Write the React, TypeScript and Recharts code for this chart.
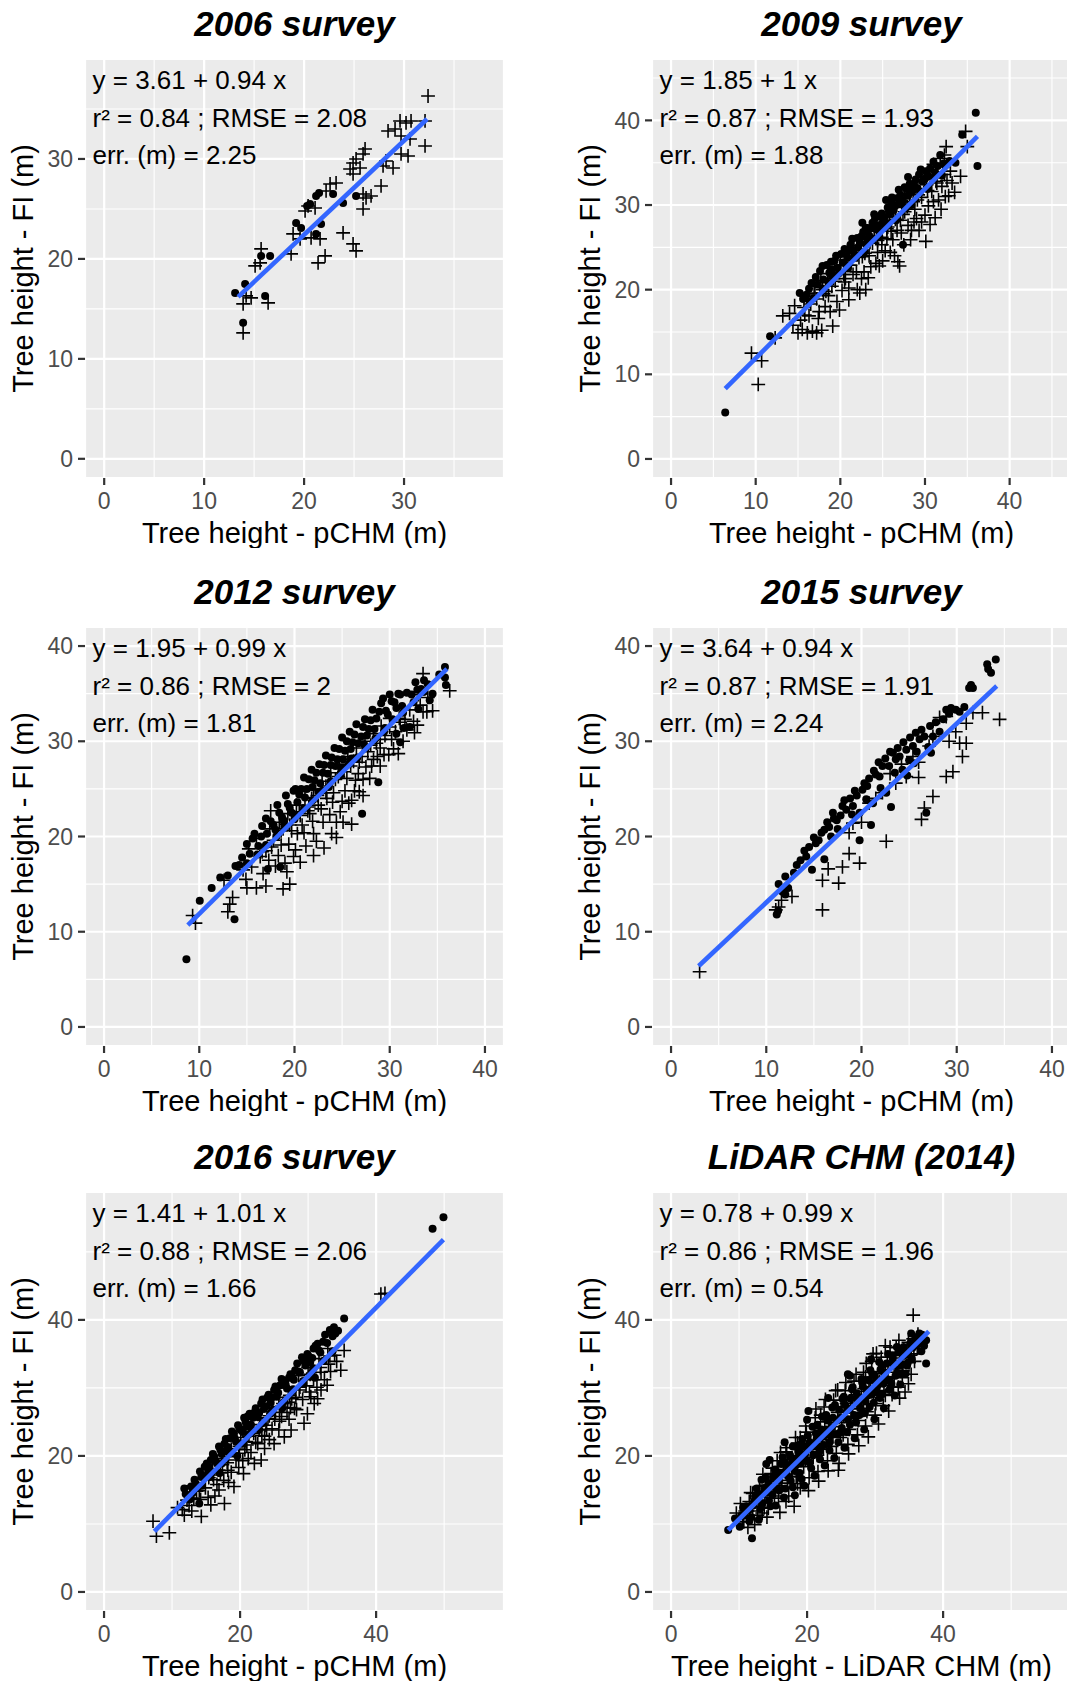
import { CartesianGrid, ReferenceLine, Scatter, ScatterChart, XAxis, YAxis } from "recharts";

type Pt = [number, number];

// ---- 2006 survey ----
const circles2006: Pt[] = [
  [21.2, 26.3], [20.6, 25.5], [21.5, 26.6], [22.9, 26.5], [23.9, 25.6], [25.2, 26.3],
  [19.2, 23.6], [19.7, 23.1], [21.7, 23.5], [21.2, 22.5], [15.7, 20.3], [16.6, 20.3],
  [14.1, 17.5], [13.1, 16.6], [16.1, 16.3], [13.9, 13.6], [20.3, 25.3],
];
const crosses2006: Pt[] = [
  [32.4, 36.3], [29.6, 33.8], [30.2, 33.6], [30.7, 33.8], [32.1, 33.8], [28.4, 32.8],
  [29.1, 33.0], [29.7, 32.3], [30.6, 32.0], [32.1, 31.3], [29.7, 30.5], [30.4, 30.3],
  [28.2, 29.8], [28.9, 29.1], [27.9, 29.3], [26.1, 31.0], [25.9, 30.5], [25.2, 30.0],
  [24.9, 29.6], [25.6, 29.1], [24.6, 29.0], [24.9, 28.5], [27.7, 27.3], [26.7, 26.3],
  [26.2, 26.1], [25.9, 26.5], [25.9, 25.0], [22.6, 27.5], [23.2, 27.6], [22.2, 26.8],
  [20.4, 25.3], [20.1, 24.8], [21.1, 25.1], [18.9, 22.5], [19.6, 22.0], [18.7, 20.5],
  [20.7, 22.1], [21.6, 22.0], [22.1, 20.3], [21.4, 19.6], [23.9, 22.6], [24.9, 21.5],
  [25.2, 20.8], [15.7, 21.0], [15.1, 19.3], [15.6, 19.6], [14.2, 16.3], [14.7, 16.1],
  [13.9, 15.5], [16.4, 15.6], [13.9, 12.6],
];
const fit2006: Pt[] = [[13.4, 16.2], [32.3, 34.0]];

// ---- 2009 survey ----
const circles2009: Pt[] = [
  [15.2, 19.6], [16.0, 19.4], [16.6, 20.8], [17.1, 21.5], [17.6, 22.2], [18.0, 21.2],
  [18.4, 22.9], [18.9, 23.3], [19.3, 23.4], [19.7, 22.6], [20.1, 24.2], [20.5, 24.8],
  [20.8, 23.9], [21.2, 25.3], [21.6, 24.6], [22.0, 26.1], [22.3, 25.5], [22.7, 26.8],
  [23.0, 27.3], [23.4, 26.4], [23.8, 27.9], [24.1, 28.4], [24.5, 27.6], [24.9, 29.0],
  [25.2, 28.5], [25.6, 29.7], [26.0, 30.3], [26.3, 29.4], [26.7, 30.8], [27.1, 31.2],
  [27.4, 30.5], [27.8, 31.9], [28.2, 32.5], [28.5, 31.6], [28.9, 33.0], [29.3, 33.6],
  [29.7, 32.8], [30.1, 34.0], [30.4, 33.4], [31.0, 35.1], [31.5, 34.6], [16.4, 18.6],
  [19.0, 21.6], [21.9, 24.0], [24.6, 26.9], [27.4, 25.3], [11.7, 14.5], [6.4, 5.5],
  [34.4, 38.3], [36.0, 40.9], [36.2, 34.6], [22.6, 27.9], [25.4, 30.6], [28.0, 33.3],
  [15.6, 18.9], [16.3, 20.1], [17.3, 20.6], [17.9, 22.8], [18.7, 22.0], [19.5, 24.0],
  [20.3, 23.2], [21.0, 24.6], [21.4, 26.0], [22.1, 25.0], [22.5, 26.3], [23.2, 26.0],
  [23.6, 27.3], [24.3, 27.1], [24.8, 28.6], [25.0, 27.9], [25.8, 29.0], [26.1, 30.9],
  [26.5, 29.9], [27.0, 30.1], [27.6, 32.1], [28.0, 31.1], [28.7, 32.3], [29.1, 32.0],
  [29.5, 34.2], [30.0, 33.1], [30.6, 34.3], [31.2, 33.8], [31.8, 35.9], [32.2, 34.9],
  [20.7, 22.9], [23.0, 25.4], [25.3, 27.6], [27.8, 29.7], [30.3, 31.9], [19.0, 22.4],
  [26.9, 31.8], [24.0, 28.9],
  [16.8, 19.0], [17.9, 20.1], [18.6, 20.8], [19.8, 21.9], [20.9, 22.5], [21.8, 23.9],
  [22.9, 24.5], [23.9, 26.0], [24.6, 26.3], [25.7, 27.8], [26.6, 28.2], [27.6, 29.7],
  [28.4, 30.0], [29.4, 31.6], [30.2, 32.0], [31.1, 33.2], [32.0, 33.5], [32.9, 35.2],
  [33.6, 35.0],
];
const crosses2009: Pt[] = [
  [13.2, 16.9], [14.0, 17.2], [14.6, 18.1], [15.0, 14.9], [15.5, 15.3], [16.1, 14.9],
  [16.7, 15.1], [17.2, 14.9], [17.8, 15.2], [19.1, 15.7], [15.8, 17.0], [16.5, 18.3],
  [17.0, 19.6], [17.5, 17.4], [18.2, 18.0], [18.6, 19.3], [19.0, 20.4], [19.6, 18.6],
  [20.2, 19.9], [20.6, 21.3], [21.0, 20.2], [21.5, 21.8], [22.0, 20.0], [22.3, 19.6],
  [23.0, 20.0], [21.2, 22.9], [22.8, 22.1], [23.4, 24.0], [23.8, 25.5], [24.2, 23.1],
  [24.6, 22.8], [24.9, 26.2], [25.3, 24.6], [25.6, 27.4], [25.9, 24.4], [26.2, 25.9],
  [26.5, 28.3], [26.8, 23.3], [27.0, 22.8], [27.2, 26.7], [27.6, 29.2], [28.0, 27.6],
  [28.3, 25.9], [28.6, 30.4], [29.0, 28.4], [29.3, 27.0], [29.6, 30.9], [30.1, 25.7],
  [30.0, 28.8], [30.4, 29.9], [30.8, 31.6], [31.2, 28.5], [31.6, 30.6], [32.0, 32.2],
  [32.4, 31.0], [32.6, 32.9], [32.3, 35.9], [32.5, 36.9], [31.8, 35.5], [31.0, 34.8],
  [30.5, 33.9], [29.9, 33.3], [29.0, 32.6], [28.3, 31.8], [27.6, 31.3], [26.9, 30.6],
  [26.2, 29.8], [25.4, 29.2], [24.8, 28.4], [24.0, 27.6], [23.2, 26.9], [22.4, 25.9],
  [21.6, 25.2], [20.8, 24.3], [20.0, 23.5], [19.3, 22.7], [18.5, 21.9], [17.7, 21.1],
  [16.9, 20.4], [16.1, 19.5], [33.0, 34.0], [33.5, 31.5], [34.2, 33.4], [34.8, 38.7],
  [35.0, 36.9], [9.5, 12.5], [10.7, 11.6], [10.3, 8.8], [12.3, 14.3], [27.3, 30.0],
  [14.4, 15.8], [15.3, 16.4], [16.3, 16.9], [17.4, 16.6], [18.0, 19.5], [18.8, 17.4],
  [19.4, 21.0], [19.9, 17.6], [20.4, 22.2], [21.0, 18.8], [21.4, 23.7], [21.9, 22.1],
  [22.5, 21.3], [22.9, 24.3], [23.6, 22.7], [24.0, 26.2], [24.4, 24.4], [25.0, 23.4],
  [25.5, 26.0], [25.8, 28.6], [26.4, 24.0], [26.7, 27.0], [27.1, 28.2], [27.5, 25.3],
  [27.9, 29.8], [28.4, 27.0], [28.8, 29.5], [29.2, 31.2], [29.6, 28.0], [30.3, 31.7],
  [30.6, 27.7], [31.0, 30.4], [31.4, 32.6], [31.9, 29.5], [32.3, 33.6], [32.8, 31.1],
  [33.2, 32.6], [22.2, 23.8], [23.3, 21.4], [26.0, 26.9], [28.7, 28.0], [20.5, 20.9],
  [17.9, 20.0], [15.7, 17.9], [31.5, 33.9], [24.9, 25.3],
  [17.2, 18.9], [18.3, 19.8], [19.2, 21.3], [20.4, 21.8], [21.3, 23.4], [22.6, 23.9],
  [23.5, 25.6], [24.4, 25.8], [25.5, 27.2], [26.3, 28.6], [27.4, 28.9], [28.2, 30.4],
  [29.1, 30.6], [30.2, 32.4], [31.3, 32.8], [32.1, 34.5],
];
const fit2009: Pt[] = [[6.4, 8.3], [36.2, 38.1]];

// ---- 2012 survey ----
const circles2012: Pt[] = [
  [8.65, 7.1], [10.05, 13.25], [11.3, 14.6], [12.2, 15.7], [13.0, 15.9], [13.7, 11.3],
  [13.8, 16.9], [14.5, 17.8], [15.0, 19.2], [15.3, 18.2], [15.8, 20.3], [16.2, 19.0],
  [16.6, 21.1], [17.1, 20.3], [17.2, 16.6], [17.5, 21.6], [18.0, 20.7], [18.5, 16.8],
  [18.4, 22.5], [18.9, 21.6], [19.3, 23.4], [19.7, 22.5], [19.9, 24.8], [20.3, 23.6],
  [20.7, 25.0], [21.1, 24.1], [21.5, 26.0], [21.9, 25.2], [22.3, 26.7], [22.7, 25.6],
  [23.1, 27.5], [23.5, 26.6], [23.9, 28.3], [24.3, 27.4], [24.7, 29.2], [25.1, 28.1],
  [25.5, 30.0], [25.9, 29.2], [26.3, 30.7], [26.7, 29.8], [27.1, 22.4], [27.2, 31.5],
  [27.6, 30.6], [28.0, 32.2], [28.4, 31.3], [28.8, 25.7], [28.9, 33.1], [29.3, 34.5],
  [29.8, 32.8], [30.2, 34.2], [30.7, 33.5], [31.1, 34.9], [31.5, 31.4], [32.1, 31.5],
  [32.7, 36.2], [33.3, 35.5], [34.2, 34.3], [35.8, 37.8], [35.8, 36.7], [35.9, 35.9],
  [30.7, 30.8], [31.1, 29.9],
  [14.2, 17.0], [15.6, 19.8], [16.5, 20.0], [17.0, 21.9], [17.8, 21.2], [18.2, 23.3],
  [18.7, 22.0], [19.1, 24.3], [19.5, 23.0], [20.1, 25.0], [20.5, 24.4], [21.0, 26.2],
  [21.3, 25.0], [21.8, 27.0], [22.1, 25.9], [22.6, 27.6], [23.0, 26.7], [23.3, 28.5],
  [23.8, 27.5], [24.2, 29.3], [24.5, 28.1], [25.0, 30.4], [25.3, 29.0], [25.8, 31.0],
  [26.1, 29.9], [26.5, 31.8], [27.0, 30.5], [27.4, 32.3], [27.8, 31.3], [28.2, 33.3],
  [28.6, 32.4], [29.1, 34.0], [29.6, 33.2], [30.0, 34.9], [30.5, 34.1], [30.9, 35.0],
  [31.3, 33.7], [31.8, 35.1], [32.3, 34.9], [32.9, 35.4], [33.6, 36.4], [34.5, 35.0],
  [22.5, 24.7], [24.9, 27.2], [27.3, 29.7], [29.5, 31.4], [20.0, 22.3], [26.0, 28.2],
  [23.6, 25.2], [33.0, 33.4], [34.0, 36.0], [35.2, 37.0],
  [15.0, 17.2], [16.1, 18.1], [17.0, 19.1], [18.1, 20.0], [19.0, 21.1], [20.0, 21.8],
  [21.0, 23.0], [21.9, 23.8], [22.9, 24.8], [23.8, 25.8], [24.8, 26.5], [25.7, 27.6],
  [26.6, 28.3], [27.5, 29.3], [28.5, 30.3], [29.4, 31.0], [30.3, 32.3], [31.4, 33.0],
  [32.5, 34.1], [33.6, 35.2],
];
const crosses2012: Pt[] = [
  [9.3, 11.7], [9.6, 10.9], [13.2, 12.9], [13.0, 12.1], [13.5, 13.6], [12.6, 15.4],
  [14.6, 16.5], [15.0, 14.6], [16.0, 14.6], [17.0, 14.8], [18.8, 14.5], [19.5, 15.0],
  [14.9, 15.5], [16.4, 17.9], [17.0, 18.5], [17.8, 19.6], [17.4, 20.8], [18.3, 18.0],
  [18.8, 20.8], [19.4, 19.2], [19.9, 17.9], [20.3, 20.3], [20.8, 21.2], [21.2, 19.0],
  [21.6, 22.4], [22.0, 20.3], [22.5, 23.3], [23.0, 21.5], [23.4, 24.0], [23.9, 20.3],
  [24.4, 21.5], [24.8, 22.6], [25.1, 21.5], [24.4, 19.9], [25.3, 24.8], [25.7, 23.5],
  [26.0, 23.8], [26.0, 21.3], [26.4, 25.9], [26.8, 24.7], [27.2, 24.3], [27.5, 27.3],
  [27.9, 26.1], [28.3, 28.1], [29.0, 27.4], [29.4, 28.6], [30.4, 29.2], [30.9, 28.7],
  [31.8, 31.2], [32.5, 32.1], [33.0, 34.9], [33.5, 33.1], [33.9, 33.1], [33.5, 37.1],
  [34.0, 34.6], [36.3, 35.3], [34.5, 33.2], [30.0, 32.4], [29.1, 31.6], [28.3, 30.8],
  [27.4, 30.0], [26.5, 29.3], [25.6, 28.4], [24.7, 27.6], [23.8, 26.7], [22.9, 25.8],
  [22.0, 24.9], [21.1, 24.1], [20.2, 23.3], [19.3, 22.4], [18.4, 21.5], [17.5, 22.7],
  [16.0, 19.8], [15.2, 18.7], [31.4, 30.0], [32.9, 31.7], [23.1, 18.8], [22.0, 18.0],
  [20.6, 17.3], [19.2, 16.3],
  [15.5, 16.8], [16.7, 16.1], [17.3, 17.5], [18.0, 16.9], [18.6, 19.1], [19.0, 17.2],
  [19.7, 20.6], [20.1, 18.6], [20.6, 22.2], [21.0, 20.4], [21.5, 23.1], [21.9, 21.6],
  [22.3, 19.5], [22.8, 22.9], [23.3, 25.3], [23.7, 22.3], [24.1, 24.6], [24.6, 26.3],
  [25.0, 23.7], [25.5, 26.1], [25.9, 27.4], [26.3, 24.8], [26.8, 27.8], [27.2, 26.0],
  [27.7, 28.9], [28.1, 27.4], [28.6, 29.8], [29.0, 29.3], [29.5, 30.6], [29.9, 28.6],
  [30.6, 31.0], [31.0, 32.4], [31.6, 32.3], [32.1, 33.3], [32.6, 30.9], [33.2, 33.8],
  [24.0, 23.6], [26.7, 26.6], [21.8, 24.0], [19.1, 21.3], [28.7, 28.4], [30.2, 30.2],
  [16.6, 18.4], [17.6, 18.9], [18.6, 20.6], [19.5, 21.2], [20.5, 22.6], [21.4, 22.7],
  [22.4, 24.3], [23.3, 24.6], [24.3, 26.0], [25.2, 26.8], [26.2, 27.9], [27.1, 28.4],
  [28.0, 29.6], [29.0, 30.2], [30.0, 31.5], [31.1, 32.0],
];
const fit2012: Pt[] = [[8.8, 10.7], [36.0, 37.6]];

// ---- 2015 survey ----
const circles2015: Pt[] = [
  [11.1, 11.8], [11.25, 12.2], [11.3, 15.0], [11.7, 14.2], [12.0, 15.8], [12.3, 14.6],
  [12.0, 13.9], [13.6, 17.5], [14.2, 17.9], [14.8, 16.5], [15.2, 19.3], [15.5, 19.6],
  [16.1, 20.7], [16.1, 17.6], [16.6, 21.0], [17.1, 21.9], [17.5, 20.8], [18.0, 23.2],
  [18.4, 22.8], [19.1, 23.2], [19.5, 24.3], [19.8, 22.5], [19.8, 19.6], [20.1, 24.9],
  [20.6, 25.3], [21.0, 21.2], [21.2, 23.5], [21.5, 26.5], [21.9, 26.3], [22.2, 27.4],
  [22.6, 24.6], [22.9, 27.4], [23.1, 23.1], [23.3, 28.8], [23.6, 28.1], [24.0, 28.4],
  [24.3, 27.0], [24.7, 29.1], [25.0, 28.0], [25.4, 29.5], [25.8, 28.9], [26.1, 30.2],
  [26.6, 30.5], [26.8, 22.5], [27.0, 29.4], [27.5, 30.5], [28.2, 31.0], [28.9, 33.3],
  [29.4, 33.5], [29.9, 33.3], [30.3, 33.1], [31.3, 35.6], [31.7, 35.6], [33.2, 38.1],
  [33.6, 37.2], [34.1, 38.6], [22.0, 25.1], [17.8, 22.2], [16.8, 20.0], [24.8, 26.4],
  [12.9, 16.2], [13.2, 17.0], [14.0, 18.5], [14.5, 18.9], [15.0, 19.9], [15.8, 20.4],
  [16.4, 21.5], [17.0, 22.5], [17.4, 21.7], [18.2, 23.8], [18.8, 24.0], [19.3, 24.8],
  [20.3, 25.6], [20.8, 26.1], [21.3, 26.9], [21.8, 27.8], [22.5, 28.2], [23.0, 28.9],
  [23.8, 29.3], [24.4, 29.9], [25.1, 30.4], [25.7, 30.9], [26.3, 31.2], [27.2, 31.6],
  [27.8, 32.0], [28.6, 32.3], [29.2, 32.9], [30.8, 33.6], [31.5, 35.9], [33.3, 37.6],
  [19.0, 22.3], [20.5, 23.9], [23.5, 26.7], [25.5, 27.7], [27.3, 28.8],
];
const crosses2015: Pt[] = [
  [3.0, 5.8], [11.0, 12.3], [11.3, 12.6], [11.6, 13.3], [12.7, 13.7], [15.9, 12.3],
  [15.9, 15.4], [17.6, 15.1], [18.0, 16.8], [18.7, 18.2], [19.8, 17.2], [19.1, 21.4],
  [18.7, 20.4], [20.8, 23.5], [22.2, 24.6], [22.6, 19.5], [23.6, 25.6], [24.7, 26.3],
  [25.4, 28.4], [26.3, 21.8], [26.6, 23.0], [27.1, 29.5], [27.5, 24.2], [27.5, 30.5],
  [28.2, 32.5], [28.9, 32.6], [28.9, 26.3], [29.6, 26.8], [29.9, 31.0], [30.3, 29.8],
  [30.6, 28.4], [31.0, 29.8], [31.0, 31.9], [31.7, 33.0], [32.7, 33.0], [34.5, 32.3],
  [21.5, 24.0], [23.0, 26.6], [24.2, 27.6], [26.0, 27.8], [20.0, 21.5], [16.5, 16.6],
  [26.0, 26.2], [29.2, 30.0],
];
const fit2015: Pt[] = [[2.9, 6.4], [34.2, 35.8]];

// ---- 2016 survey ----
const circles2016: Pt[] = [
  [11.8, 15.2], [12.3, 14.0], [12.6, 13.6], [13.3, 16.5], [13.8, 15.4], [14.3, 16.9],
  [14.8, 18.4], [15.3, 17.6], [15.7, 19.4], [16.2, 19.9], [16.6, 18.9], [17.1, 20.9],
  [17.7, 21.8], [18.0, 20.7], [18.5, 22.6], [19.1, 23.3], [19.4, 22.1], [19.9, 24.1],
  [20.4, 23.5], [20.8, 25.0], [21.1, 25.8], [21.6, 24.6], [22.1, 26.4], [22.6, 25.7],
  [23.1, 27.7], [23.5, 26.9], [24.0, 28.6], [24.5, 27.8], [25.0, 29.7], [25.4, 28.7],
  [25.9, 30.4], [26.5, 31.1], [26.9, 29.9], [27.4, 32.0], [27.9, 31.2], [28.4, 33.6],
  [28.8, 32.3], [29.4, 33.9], [29.9, 35.0], [30.3, 33.7], [30.8, 35.8], [31.4, 36.5],
  [31.8, 35.2], [32.5, 37.8], [33.2, 38.5], [33.8, 38.9], [34.4, 38.4], [35.3, 40.2],
  [48.3, 53.4], [49.9, 55.1], [17.0, 17.5], [14.0, 13.0], [22.8, 23.9], [26.2, 27.0],
  [29.3, 30.6], [31.0, 31.5], [19.6, 20.0],
  [12.0, 14.4], [12.8, 15.5], [13.5, 15.9], [14.1, 17.7], [14.6, 17.0], [15.1, 18.9],
  [15.5, 18.3], [16.0, 20.3], [16.4, 19.3], [16.9, 21.4], [17.3, 20.3], [17.9, 22.5],
  [18.2, 21.3], [18.8, 23.6], [19.2, 22.6], [19.7, 24.5], [20.1, 23.8], [20.6, 25.6],
  [21.0, 24.3], [21.4, 26.2], [21.9, 25.6], [22.3, 27.0], [22.8, 26.3], [23.3, 28.3],
  [23.8, 27.3], [24.2, 29.0], [24.7, 28.6], [25.2, 30.2], [25.6, 29.3], [26.1, 31.3],
  [26.7, 30.4], [27.2, 31.5], [27.6, 31.8], [28.1, 32.6], [28.6, 32.4], [29.1, 34.5],
  [29.6, 33.3], [30.1, 34.6], [30.6, 34.4], [31.1, 36.2], [31.6, 35.5], [32.2, 36.8],
  [32.8, 36.6], [33.6, 37.6], [34.0, 38.0], [18.5, 20.4], [21.2, 23.1], [24.4, 26.2],
  [27.7, 29.5], [15.6, 16.9], [30.5, 32.2],
  [13.0, 14.6], [14.4, 15.6], [15.8, 17.6], [17.3, 18.9], [18.8, 20.6], [20.3, 21.8],
  [21.8, 23.6], [23.3, 24.8], [24.8, 26.8], [26.3, 27.8], [27.8, 29.8], [29.3, 31.0],
  [30.8, 32.9], [32.3, 34.0], [33.6, 35.4],
];
const crosses2016: Pt[] = [
  [7.2, 10.4], [7.7, 8.2], [9.6, 8.7], [11.8, 11.3], [12.5, 12.7], [13.2, 13.8],
  [14.3, 11.1], [15.7, 12.8], [16.3, 14.1], [16.9, 15.0], [17.7, 13.0], [18.3, 16.1],
  [19.1, 15.5], [19.8, 18.3], [20.5, 17.4], [21.2, 19.6], [22.1, 18.9], [23.1, 19.4],
  [23.6, 21.1], [24.3, 22.4], [25.0, 21.8], [25.7, 23.8], [26.5, 22.8], [27.2, 25.4],
  [27.5, 23.8], [28.3, 26.8], [29.4, 24.8], [29.9, 26.2], [30.4, 28.7], [30.9, 27.7],
  [31.4, 28.4], [31.9, 29.7], [32.8, 30.4], [33.3, 32.4], [34.8, 32.6], [35.3, 35.5],
  [40.7, 43.8], [41.3, 43.9], [13.0, 15.6], [14.6, 16.7], [15.9, 18.0], [17.3, 19.6],
  [18.7, 21.0], [20.1, 22.7], [21.5, 24.1], [22.9, 25.6], [24.3, 27.0], [25.7, 28.6],
  [27.1, 30.0], [28.6, 31.8], [30.0, 33.0], [31.6, 34.3], [32.9, 35.8], [16.1, 16.5],
  [18.2, 17.9], [19.8, 20.4], [22.3, 22.0], [23.8, 24.5], [26.1, 25.8], [28.2, 28.6],
  [29.7, 30.3], [21.0, 21.6], [23.2, 23.0], [25.1, 25.4], [27.4, 27.1],
  [10.8, 12.4], [11.5, 12.1], [12.2, 13.5], [12.9, 11.9], [13.6, 14.8], [14.2, 13.6],
  [14.9, 15.3], [15.3, 13.9], [16.0, 17.2], [16.6, 15.8], [17.1, 17.5], [17.6, 16.4],
  [18.1, 19.0], [18.7, 17.6], [19.4, 19.4], [19.9, 21.4], [20.4, 19.3], [20.9, 22.1],
  [21.6, 20.5], [22.0, 23.3], [22.6, 21.8], [23.0, 24.6], [23.6, 22.9], [24.1, 25.5],
  [24.7, 24.0], [25.2, 26.4], [25.8, 25.1], [26.3, 27.7], [26.9, 26.4], [27.6, 28.4],
  [28.0, 27.0], [28.7, 29.7], [29.2, 28.3], [29.8, 31.3], [30.2, 29.4], [30.8, 31.2],
  [31.3, 30.1], [31.9, 32.3], [32.4, 31.2], [33.0, 33.5], [33.9, 34.8], [34.2, 33.9],
  [17.4, 18.7], [20.7, 20.9], [23.9, 23.8], [27.0, 27.9],
  [12.6, 14.3], [14.0, 14.9], [15.4, 16.8], [16.8, 17.9], [18.3, 19.9], [19.8, 21.0],
  [21.3, 22.9], [22.8, 23.9], [24.3, 25.9], [25.8, 27.0], [27.3, 28.9], [28.8, 30.1],
  [30.3, 32.0], [31.8, 33.0], [33.2, 34.7],
];
const fit2016: Pt[] = [[7.4, 8.9], [49.9, 51.8]];

// ---- LiDAR CHM (2014) ----
const circlesLidar: Pt[] = [
  [8.4, 9.1], [10.1, 9.6], [11.9, 7.9], [10.6, 12.4], [11.8, 11.0], [12.4, 13.9],
  [13.1, 12.2], [13.3, 16.5], [14.2, 14.6], [14.6, 12.6], [15.0, 16.9], [15.6, 15.1],
  [16.2, 18.8], [16.6, 13.9], [17.0, 17.2], [17.5, 20.1], [17.9, 15.4], [18.4, 18.7],
  [18.8, 21.6], [19.2, 16.6], [19.7, 20.2], [20.1, 23.0], [20.6, 18.2], [21.0, 21.4],
  [21.5, 24.6], [21.9, 19.5], [22.3, 22.9], [22.8, 26.0], [23.3, 20.8], [23.6, 24.2],
  [24.1, 27.5], [24.6, 22.0], [24.9, 25.6], [25.4, 28.7], [25.9, 23.5], [26.2, 26.8],
  [26.7, 30.1], [27.2, 24.9], [27.5, 28.2], [28.0, 31.3], [28.5, 26.3], [28.8, 29.6],
  [29.3, 32.6], [29.8, 27.8], [30.1, 30.9], [30.6, 33.8], [31.1, 29.1], [31.4, 32.2],
  [31.9, 35.0], [32.4, 30.6], [32.7, 33.5], [33.2, 36.0], [33.8, 32.0], [34.1, 34.7],
  [34.7, 33.3], [35.2, 36.6], [35.3, 38.0], [36.5, 38.0], [37.5, 37.0], [37.5, 33.6],
  [36.8, 35.4], [20.0, 25.3], [26.0, 32.0], [14.0, 18.8],
  [9.4, 10.8], [10.3, 11.2], [11.1, 12.6], [11.5, 10.4], [12.1, 12.7], [12.6, 15.2],
  [12.9, 10.6], [13.6, 14.5], [13.9, 16.8], [14.4, 13.4], [14.8, 15.5], [15.3, 18.0],
  [15.4, 12.7], [15.9, 16.3], [16.4, 19.8], [16.8, 15.2], [17.2, 18.4], [17.6, 16.3],
  [17.9, 21.4], [18.2, 14.2], [18.5, 19.7], [18.9, 17.5], [19.3, 22.5], [19.6, 15.6],
  [20.0, 21.1], [20.4, 19.0], [20.8, 24.3], [21.1, 17.1], [21.4, 22.5], [21.8, 20.6],
  [22.2, 25.8], [22.6, 18.6], [22.9, 23.9], [23.3, 22.0], [23.7, 27.1], [24.0, 19.7],
  [24.4, 25.2], [24.8, 23.4], [25.2, 28.4], [25.5, 21.2], [25.9, 26.7], [26.3, 24.6],
  [26.6, 29.8], [27.0, 22.6], [27.4, 27.8], [27.7, 26.0], [28.1, 30.8], [28.4, 23.9],
  [28.9, 28.9], [29.2, 27.2], [29.6, 32.0], [29.9, 25.4], [30.3, 30.2], [30.7, 28.5],
  [31.0, 33.3], [31.3, 27.0], [31.7, 31.1], [32.1, 29.7], [32.6, 34.8], [32.9, 28.9],
  [33.3, 32.2], [33.7, 30.5], [34.2, 36.0], [34.5, 32.1], [34.9, 34.9], [35.4, 34.2],
  [35.9, 37.3], [36.3, 36.5], [36.9, 37.8], [37.2, 36.2], [20.2, 26.6], [23.1, 28.5],
  [26.3, 31.8], [29.4, 34.2], [16.7, 22.0], [14.5, 19.4],
  [10.8, 11.3], [11.4, 12.0], [12.2, 13.3], [12.8, 14.4], [13.4, 13.0], [13.8, 15.3],
  [14.3, 16.0], [14.9, 14.3], [15.5, 17.3], [15.9, 14.9], [16.3, 17.5], [16.8, 18.9],
  [17.3, 16.9], [17.8, 19.5], [18.2, 17.8], [18.7, 20.6], [19.1, 18.9], [19.5, 21.4],
  [20.0, 19.3], [20.4, 22.0], [20.9, 20.1], [21.3, 23.3], [21.7, 21.4], [22.1, 23.9],
  [22.5, 21.6], [23.0, 25.2], [23.4, 23.0], [23.8, 25.6], [24.3, 23.2], [24.7, 26.8],
  [25.1, 24.1], [25.6, 27.5], [26.0, 25.4], [26.4, 28.4], [26.9, 26.0], [27.3, 29.2],
  [27.8, 27.1], [28.2, 30.2], [28.6, 28.0], [29.1, 31.1], [29.5, 29.0], [29.9, 31.9],
  [30.4, 29.3], [30.8, 32.7], [31.2, 30.6], [31.7, 33.6], [32.1, 31.2], [32.6, 34.3],
  [33.0, 31.8], [33.4, 35.2], [33.9, 33.5], [34.4, 35.1], [34.8, 33.7], [35.5, 35.9],
  [36.1, 36.3], [36.7, 37.2],
];
const crossesLidar: Pt[] = [
  [9.6, 11.6], [10.7, 10.3], [11.3, 9.5], [11.5, 13.3], [12.7, 11.3], [13.0, 15.5],
  [13.8, 13.2], [14.1, 11.0], [14.7, 17.4], [15.2, 13.8], [15.6, 19.3], [16.0, 11.7],
  [16.3, 16.4], [16.9, 20.6], [17.3, 14.1], [17.7, 18.2], [18.1, 12.6], [18.6, 21.9],
  [19.0, 15.3], [19.4, 19.6], [19.9, 23.5], [20.3, 16.8], [20.7, 21.0], [21.2, 25.6],
  [21.6, 17.7], [22.1, 22.4], [22.5, 27.2], [23.0, 19.3], [23.4, 23.6], [23.9, 28.2],
  [24.3, 20.4], [24.7, 18.9], [25.1, 24.9], [25.6, 29.6], [26.0, 21.7], [26.4, 27.4],
  [26.9, 31.0], [27.4, 23.1], [27.8, 27.0], [28.3, 32.3], [28.6, 24.4], [29.1, 30.2],
  [29.5, 33.9], [30.0, 26.0], [30.4, 29.6], [30.9, 34.5], [31.2, 27.4], [31.7, 31.6],
  [32.2, 36.0], [32.5, 29.0], [33.0, 32.8], [33.5, 37.0], [34.0, 31.5], [34.4, 35.4],
  [35.0, 33.7], [35.6, 37.2], [35.6, 40.7], [36.2, 35.8], [34.9, 30.6], [33.4, 30.1],
  [12.0, 14.5], [22.0, 26.0], [27.0, 28.8], [19.0, 22.7], [29.7, 35.0], [24.5, 29.7],
  [17.0, 21.2], [31.5, 36.2],
  [10.2, 13.0], [10.9, 11.9], [11.7, 14.6], [12.3, 9.9], [12.8, 13.5], [13.4, 11.6],
  [13.5, 17.3], [14.0, 15.7], [14.3, 12.3], [14.9, 18.2], [15.4, 16.2], [15.8, 14.1],
  [16.1, 20.5], [16.5, 17.9], [16.9, 13.3], [17.4, 19.5], [17.8, 17.0], [18.3, 22.7],
  [18.6, 15.9], [19.1, 20.9], [19.5, 18.4], [19.8, 24.4], [20.2, 14.9], [20.5, 22.2],
  [20.9, 19.8], [21.3, 26.9], [21.7, 16.3], [22.0, 23.4], [22.4, 21.0], [22.7, 28.3],
  [23.1, 17.8], [23.5, 24.9], [23.8, 22.8], [24.2, 29.6], [24.6, 17.9], [25.0, 27.2],
  [25.3, 23.1], [25.7, 30.8], [26.1, 20.3], [26.5, 28.7], [26.8, 25.5], [27.2, 32.0],
  [27.6, 21.5], [28.0, 29.5], [28.3, 26.7], [28.7, 33.6], [29.0, 22.8], [29.4, 31.5],
  [29.8, 29.0], [30.2, 35.1], [30.5, 24.7], [30.9, 32.4], [31.3, 30.4], [31.8, 34.5],
  [32.0, 26.6], [32.4, 33.9], [32.8, 31.6], [33.1, 35.9], [33.6, 28.5], [34.0, 34.4],
  [34.4, 29.4], [34.9, 36.7], [35.3, 32.0], [35.8, 33.9], [36.5, 37.4], [22.6, 25.0],
  [25.6, 26.6], [28.6, 31.6], [19.6, 21.9], [31.5, 32.7], [17.1, 18.8], [34.0, 33.0],
  [10.5, 10.8], [11.2, 11.9], [12.0, 11.9], [12.5, 14.1], [13.2, 13.9], [13.7, 12.4],
  [14.2, 15.1], [14.6, 16.3], [15.1, 15.0], [15.7, 17.9], [16.2, 15.6], [16.6, 18.0],
  [17.1, 16.0], [17.6, 19.0], [18.0, 18.9], [18.4, 16.9], [18.9, 20.0], [19.3, 21.2],
  [19.8, 19.4], [20.2, 21.6], [20.6, 20.6], [21.1, 22.1], [21.5, 20.1], [21.9, 24.0],
  [22.3, 21.5], [22.8, 23.2], [23.2, 25.3], [23.6, 21.4], [24.1, 24.3], [24.5, 26.4],
  [24.9, 22.7], [25.4, 25.8], [25.8, 27.7], [26.2, 23.9], [26.7, 26.9], [27.1, 29.0],
  [27.5, 25.2], [28.0, 28.1], [28.4, 29.9], [28.8, 26.5], [29.3, 29.8], [29.7, 31.6],
  [30.1, 27.7], [30.6, 30.9], [31.0, 32.1], [31.5, 28.9], [31.9, 32.3], [32.3, 33.5],
  [32.7, 30.2], [33.2, 33.1], [33.7, 34.9], [34.1, 32.5], [34.7, 35.6], [35.2, 34.8],
  [35.7, 35.0], [36.3, 37.9],
];
const fitLidar: Pt[] = [[8.4, 9.1], [37.9, 38.3]];

// ---- text ----
const titles = ["2006 survey", "2009 survey", "2012 survey", "2015 survey", "2016 survey", "LiDAR CHM (2014)"];
const equations = [
  ["y = 3.61 + 0.94 x", "r\u00B2 = 0.84 ; RMSE = 2.08", "err. (m) = 2.25"],
  ["y = 1.85 + 1 x", "r\u00B2 = 0.87 ; RMSE = 1.93", "err. (m) = 1.88"],
  ["y = 1.95 + 0.99 x", "r\u00B2 = 0.86 ; RMSE = 2", "err. (m) = 1.81"],
  ["y = 3.64 + 0.94 x", "r\u00B2 = 0.87 ; RMSE = 1.91", "err. (m) = 2.24"],
  ["y = 1.41 + 1.01 x", "r\u00B2 = 0.88 ; RMSE = 2.06", "err. (m) = 1.66"],
  ["y = 0.78 + 0.99 x", "r\u00B2 = 0.86 ; RMSE = 1.96", "err. (m) = 0.54"],
];
const xTitles = [
  "Tree height - pCHM (m)", "Tree height - pCHM (m)", "Tree height - pCHM (m)",
  "Tree height - pCHM (m)", "Tree height - pCHM (m)", "Tree height - LiDAR CHM (m)",
];
const yTitle = "Tree height - FI (m)";

// axis domains and breaks
const domains: Pt[] = [[-1.92, 40], [-2.25, 47.25], [-2, 42], [-2, 42], [-2.8, 58.8], [-2.8, 58.8]];
const majorTicks = [
  [0, 10, 20, 30], [0, 10, 20, 30, 40], [0, 10, 20, 30, 40],
  [0, 10, 20, 30, 40], [0, 20, 40], [0, 20, 40],
];
const minorTicks = [
  [5, 15, 25, 35], [5, 15, 25, 35, 45], [5, 15, 25, 35],
  [5, 15, 25, 35], [10, 30, 50], [10, 30, 50],
];

const circleSets = [circles2006, circles2009, circles2012, circles2015, circles2016, circlesLidar];
const crossSets = [crosses2006, crosses2009, crosses2012, crosses2015, crosses2016, crossesLidar];
const fitSets = [fit2006, fit2009, fit2012, fit2015, fit2016, fitLidar];

const FONT = "'Liberation Sans', Arial, Helvetica, sans-serif";
const PLOT = 419;
const TOP = 59;
const XAXIS_H = 70;
const ROW_TOP = [0, 568, 1133];
const COL_LEFT = [0, 533];
const YAXIS_W = [85, 119];
const RIGHT_PAD = [29, 0];

const toPts = (arr: Pt[]) => arr.map(([x, y]) => ({ x, y }));

function Dot(props: any) {
  return <circle cx={props.cx} cy={props.cy} r={4} fill="#000" />;
}

function Cross(props: any) {
  const { cx, cy } = props;
  const h = 6.9;
  return (
    <path
      d={`M${cx - h},${cy}H${cx + h}M${cx},${cy - h}V${cy + h}`}
      stroke="#000"
      strokeWidth={1.6}
      fill="none"
    />
  );
}

const NoShape = () => <g />;

function Panel({ i }: { i: number }) {
  const col = i % 2;
  const row = Math.floor(i / 2);
  const axisW = YAXIS_W[col];
  const width = axisW + PLOT + RIGHT_PAD[col];
  const height = TOP + PLOT + XAXIS_H;
  const domain = domains[i];
  const tickStyle = { fill: "#4D4D4D", fontSize: 23, fontFamily: FONT };
  const tickLine = { stroke: "#333333", strokeWidth: 2.2 };

  return (
    <div style={{ position: "absolute", left: COL_LEFT[col], top: ROW_TOP[row], width, height }}>
      <ScatterChart
        width={width}
        height={height}
        margin={{ top: TOP, right: RIGHT_PAD[col], bottom: 0, left: 0 }}
      >
        <CartesianGrid fill="#EBEBEB" stroke="#FFFFFF" strokeWidth={2.2} />
        {minorTicks[i].map((v) => (
          <ReferenceLine key={`mx${v}`} x={v} stroke="#FFFFFF" strokeWidth={1.1} />
        ))}
        {minorTicks[i].map((v) => (
          <ReferenceLine key={`my${v}`} y={v} stroke="#FFFFFF" strokeWidth={1.1} />
        ))}
        <XAxis
          type="number"
          dataKey="x"
          domain={domain}
          ticks={majorTicks[i]}
          allowDataOverflow
          axisLine={false}
          tickLine={tickLine}
          tickSize={7}
          tickMargin={8}
          tick={tickStyle}
          height={XAXIS_H}
          label={{
            value: xTitles[i],
            position: "insideBottom",
            offset: 5,
            fill: "#000",
            fontSize: 29,
            fontFamily: FONT,
          }}
        />
        <YAxis
          type="number"
          dataKey="y"
          domain={domain}
          ticks={majorTicks[i]}
          allowDataOverflow
          axisLine={false}
          tickLine={tickLine}
          tickSize={7}
          tickMargin={5}
          tick={tickStyle}
          width={axisW}
          label={{
            value: yTitle,
            angle: -90,
            position: "insideLeft",
            offset: axisW - 62,
            fill: "#000",
            fontSize: 29,
            fontFamily: FONT,
            style: { textAnchor: "middle" },
          }}
        />
        <Scatter data={toPts(crossSets[i])} shape={Cross} isAnimationActive={false} />
        <Scatter data={toPts(circleSets[i])} shape={Dot} isAnimationActive={false} />
        <Scatter
          data={toPts(fitSets[i])}
          shape={NoShape}
          line={{ stroke: "#3366FF", strokeWidth: 4.6 }}
          isAnimationActive={false}
        />
      </ScatterChart>
      <svg
        width={width}
        height={height}
        style={{ position: "absolute", left: 0, top: 0, pointerEvents: "none" }}
      >
        <text
          x={axisW + PLOT / 2}
          y={TOP - 23}
          textAnchor="middle"
          fontFamily={FONT}
          fontSize={35}
          fontWeight="bold"
          fontStyle="italic"
          fill="#000"
        >
          {titles[i]}
        </text>
        {equations[i].map((line, k) => (
          <text
            key={k}
            x={axisW + 7.5}
            y={TOP + 30 + k * 37.5}
            fontFamily={FONT}
            fontSize={26}
            fill="#000"
          >
            {line}
          </text>
        ))}
      </svg>
    </div>
  );
}

export default function App() {
  return (
    <div
      style={{
        position: "relative",
        width: 1067,
        height: 1686,
        overflow: "hidden",
        background: "#FFFFFF",
      }}
    >
      <style>{"body{margin:0}"}</style>
      {[0, 1, 2, 3, 4, 5].map((i) => (
        <Panel key={i} i={i} />
      ))}
    </div>
  );
}
